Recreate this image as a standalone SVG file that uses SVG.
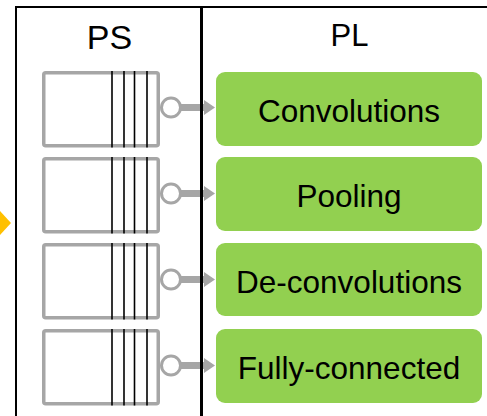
<svg xmlns="http://www.w3.org/2000/svg" width="487" height="416" viewBox="0 0 487 416">
  <style>
    .buf { fill: #ffffff; stroke: #a6a6a6; stroke-width: 3.5; }
    .slot { stroke: #000000; stroke-width: 1.6; }
    .port { fill: #ffffff; stroke: #a6a6a6; stroke-width: 3; }
    .arrow { fill: #a6a6a6; }
    .op { fill: #92d050; }
    .lbl { font-family: "Liberation Sans", Arial, sans-serif; font-size: 31.5px; fill: #000000; text-anchor: middle; }
    .title { font-family: "Liberation Sans", Arial, sans-serif; fill: #000000; text-anchor: middle; }
  </style>
  <defs>
    <g id="buffer">
      <rect class="buf" x="43.75" y="1.75" width="114.5" height="73" rx="2"/>
      <line class="slot" x1="112" y1="0" x2="112" y2="76.5"/>
      <line class="slot" x1="124" y1="0" x2="124" y2="76.5"/>
      <line class="slot" x1="134.5" y1="0" x2="134.5" y2="76.5"/>
      <line class="slot" x1="147" y1="0" x2="147" y2="76.5"/>
    </g>
  </defs>
  <rect x="0" y="0" width="487" height="416" fill="#ffffff"/>

  <!-- orange partial marker at left edge -->
  <polygon points="-12,223 0,211 11,223 0,235" fill="#ffc000"/>

  <!-- PS buffers -->
  <g id="ps-buffer-1"><use href="#buffer" transform="translate(0,71)"/></g>
  <g id="ps-buffer-2"><use href="#buffer" transform="translate(0,157)"/></g>
  <g id="ps-buffer-3"><use href="#buffer" transform="translate(0,243)"/></g>
  <g id="ps-buffer-4"><use href="#buffer" transform="translate(0,329)"/></g>

  <!-- connectors -->
  <g id="connectors">
    <polygon class="arrow" points="181,104 204,104 204,100 215,107.5 204,115 204,111 181,111"/>
    <polygon class="arrow" points="181,190 204,190 204,186 215,193.5 204,201 204,197 181,197"/>
    <polygon class="arrow" points="181,276 204,276 204,272 215,279.5 204,287 204,283 181,283"/>
    <polygon class="arrow" points="181,362 204,362 204,358 215,365.5 204,373 204,369 181,369"/>
    <circle class="port" cx="171" cy="107.5" r="9.5"/>
    <circle class="port" cx="171" cy="193.5" r="9.5"/>
    <circle class="port" cx="171" cy="279.5" r="9.5"/>
    <circle class="port" cx="171" cy="365.5" r="9.5"/>
  </g>

  <!-- region borders -->
  <g id="borders">
    <line x1="15" y1="7" x2="487" y2="7" stroke="#000" stroke-width="2"/>
    <line x1="16" y1="6" x2="16" y2="416" stroke="#000" stroke-width="2"/>
    <line x1="201.5" y1="6" x2="201.5" y2="416" stroke="#000" stroke-width="3"/>
  </g>

  <g id="ps-title"><text class="title" x="109.5" y="49" font-size="34">PS</text></g>
  <g id="pl-title"><text class="title" x="349.5" y="46" font-size="31">PL</text></g>

  <g id="convolutions">
    <rect class="op" x="216" y="72" width="266" height="74" rx="9"/>
    <text class="lbl" x="349" y="122">Convolutions</text>
  </g>
  <g id="pooling">
    <rect class="op" x="216" y="157" width="266" height="74" rx="9"/>
    <text class="lbl" x="349" y="207">Pooling</text>
  </g>
  <g id="de-convolutions">
    <rect class="op" x="216" y="243" width="266" height="73" rx="9"/>
    <text class="lbl" x="349" y="293">De-convolutions</text>
  </g>
  <g id="fully-connected">
    <rect class="op" x="216" y="329" width="266" height="74" rx="9"/>
    <text class="lbl" x="349" y="378.5">Fully-connected</text>
  </g>
</svg>
